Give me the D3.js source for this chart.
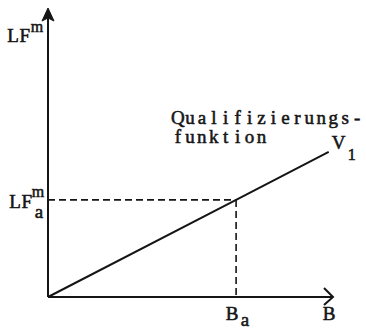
<!DOCTYPE html>
<head>
  <meta charset="utf-8">
  <title>Qualifizierungsfunktion</title>
  <script src="https://d3js.org/d3.v7.min.js"></script>
  <style>
    body {
      margin: 0;
      background: #fff;
    }
    text {
      font-family: 'Liberation Serif', 'DejaVu Serif', serif;
      font-size: 19px;
      fill: #151515;
      stroke: #151515;
      stroke-width: 0.55px;
      text-anchor: middle;
    }
    .axis-line {
      stroke: #151515;
      stroke-width: 2;
      fill: none;
    }
    .v-line {
      stroke: #151515;
      stroke-width: 2;
      fill: none;
    }
    .guide {
      stroke: #151515;
      stroke-width: 1.6;
      stroke-dasharray: 7,4;
      fill: none;
    }
  </style>
</head>
<body>
  <script>
    // qualification function V1: B -> LF^m (conceptual units 0..100)
    var v1B  = [0, 66, 98.5];
    var v1LF = [0, 33.6, 50.2];

    // the marked point a
    var pointB  = 66;
    var pointLF = 33.6;

    var xLabel = "B";
    var yLabel = "LF";
    var curveLabel = ["Qualifizierungs-", "funktion"];

    var width = 366, height = 329;
    var margin = {top: 8, right: 33, bottom: 32, left: 48};
    var pitch = 11.94; // typewriter character pitch

    var svg = d3.select("body").append("svg")
      .attr("width", width)
      .attr("height", height);

    var x = d3.scaleLinear()
      .domain([0, 100])
      .range([margin.left, width - margin.right]);

    var y = d3.scaleLinear()
      .domain([0, 100])
      .range([height - margin.bottom, margin.top]);

    var x0 = x(0), y0 = y(0);

    // every glyph centred in its own cell, like a typewriter
    function type(g, str, left, base, size) {
      var xs = str.split("").map(function(c, i) { return left + pitch / 2 + i * pitch; });
      var t = g.append("text")
        .attr("x", xs.join(" "))
        .attr("y", base)
        .text(str);
      if (size) t.style("font-size", size + "px");
      return t;
    }

    // axes
    svg.append("line")
      .attr("class", "axis-line")
      .attr("x1", x0).attr("y1", y0)
      .attr("x2", x0).attr("y2", y(100) + 6);

    svg.append("line")
      .attr("class", "axis-line")
      .attr("x1", x0).attr("y1", y0)
      .attr("x2", x(100)).attr("y2", y0);

    // filled arrow on top of the y axis
    var ty = y(100);
    svg.append("path")
      .attr("d", "M" + x0 + "," + ty + "L" + (x0 - 6) + "," + (ty + 13) + "L" + x0 + "," + (ty + 10) + "L" + (x0 + 6) + "," + (ty + 13) + "Z")
      .style("fill", "#151515")
      .style("stroke", "#151515")
      .style("stroke-width", 1);

    // open arrow at the end of the x axis
    var tx = x(100);
    svg.append("path")
      .attr("class", "axis-line")
      .attr("d", "M" + (tx - 9) + "," + (y0 - 9) + "L" + tx + "," + y0 + "L" + (tx - 9) + "," + (y0 + 8));

    // dashed guides to the point
    svg.append("line")
      .attr("class", "guide")
      .attr("x1", x0).attr("y1", y(pointLF))
      .attr("x2", x(pointB)).attr("y2", y(pointLF));

    svg.append("line")
      .attr("class", "guide")
      .attr("x1", x(pointB)).attr("y1", y(pointLF))
      .attr("x2", x(pointB)).attr("y2", y0);

    // the function line
    var line = d3.line()
      .x(function(d, i) { return x(v1B[i]); })
      .y(function(d, i) { return y(v1LF[i]); });

    svg.append("path")
      .attr("class", "v-line")
      .attr("d", line(v1B));

    // axis labels
    type(svg, yLabel, x0 - 41, 42);
    type(svg, "m", x0 - 17, 32, 16);
    type(svg, xLabel, tx - 10, y0 + 23);

    // marker labels
    var py = y(pointLF);
    type(svg, "LF", x0 - 39, py + 8);
    type(svg, "m", x0 - 16, py - 3, 16);
    type(svg, "a", x0 - 15, py + 18);

    var px = x(pointB);
    type(svg, "B", px - 10, y0 + 23);
    type(svg, "a", px + 3, y0 + 29);

    // curve labels
    var ex = x(v1B[2]), ey = y(v1LF[2]);
    type(svg, "V", ex + 4, ey - 3);
    type(svg, "1", ex + 17, ey + 8, 16);

    var cl = svg.append("g");
    curveLabel.forEach(function(d, i) {
      type(cl, d, 172, 124 + i * 19);
    });
  </script>
</body>
